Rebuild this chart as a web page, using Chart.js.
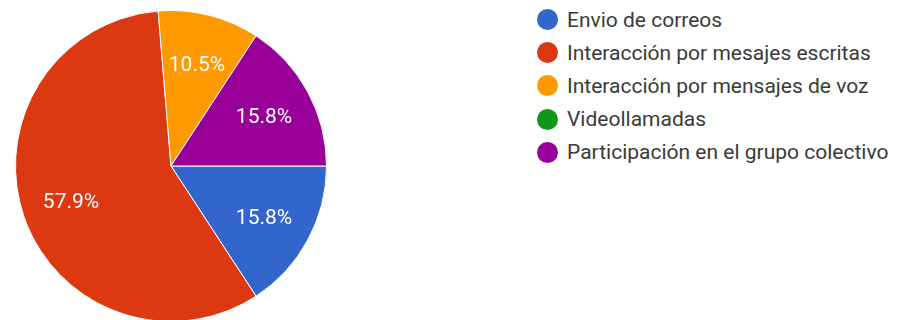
<!DOCTYPE html>
<html lang="es">
<head>
  <meta charset="UTF-8">
  <title>Medios de comunicación</title>
  <script src="https://cdn.jsdelivr.net/npm/chart.js"></script>
  <style>
    html, body { margin: 0; padding: 0; background: #fff; overflow: hidden; }
    body { width: 897px; height: 320px; position: relative; font-family: Roboto, "Liberation Sans", Arial, sans-serif; }
    #pieBox { position: absolute; left: 15px; top: 10px; width: 312px; height: 312px; }
    #legend { position: absolute; left: 537px; top: 3px; }
    .item { display: flex; align-items: center; height: 33.2px; font-size: 21px; color: #3a3a3a; white-space: nowrap; }
    .dot { width: 21px; height: 21px; border-radius: 50%; margin-right: 9px; flex: none; }
  </style>
</head>
<body>
  <div id="pieBox"><canvas id="pie"></canvas></div>
  <div id="legend"></div>

  <script>
    const labels = [
      'Envio de correos',
      'Interacción por mesajes escritas',
      'Interacción por mensajes de voz',
      'Videollamadas',
      'Participación en el grupo colectivo'
    ];
    const responses = [3, 11, 2, 0, 3];
    const colors = ['#3366cc', '#dc3912', '#ff9900', '#109618', '#990099'];

    const total = responses.reduce((a, b) => a + b, 0);

    // legend on the right
    const legend = document.getElementById('legend');
    labels.forEach((name, i) => {
      const row = document.createElement('div');
      row.className = 'item';
      row.innerHTML = '<span class="dot" style="background:' + colors[i] + '"></span>' + name;
      legend.appendChild(row);
    });

    // percent text inside each slice
    const sliceLabels = {
      id: 'sliceLabels',
      afterDatasetsDraw(chart) {
        const ctx = chart.ctx;
        const meta = chart.getDatasetMeta(0);
        ctx.save();
        ctx.fillStyle = '#fff';
        ctx.font = '21px Roboto, "Liberation Sans", Arial, sans-serif';
        ctx.textAlign = 'center';
        ctx.textBaseline = 'middle';
        meta.data.forEach((arc, i) => {
          const v = responses[i];
          if (!v) return;
          const p = arc.getProps(['x', 'y', 'startAngle', 'endAngle', 'outerRadius'], true);
          const mid = (p.startAngle + p.endAngle) / 2;
          const r = p.outerRadius * 0.68;
          ctx.fillText((v / total * 100).toFixed(1) + '%', p.x + Math.cos(mid) * r, p.y + Math.sin(mid) * r + 2);
        });
        ctx.restore();
      }
    };

    new Chart(document.getElementById('pie'), {
      type: 'pie',
      data: {
        labels: labels,
        datasets: [{
          data: responses,
          backgroundColor: colors,
          borderColor: '#fff',
          borderWidth: 1
        }]
      },
      options: {
        responsive: true,
        maintainAspectRatio: false,
        animation: false,
        rotation: 90,
        layout: { padding: 0 },
        plugins: {
          legend: { display: false },
          tooltip: { enabled: false }
        }
      },
      plugins: [sliceLabels]
    });
  </script>
</body>
</html>
